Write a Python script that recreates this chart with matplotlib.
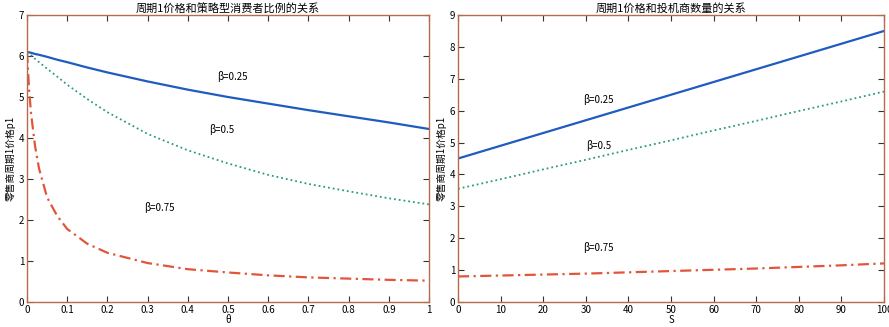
import numpy as np
import matplotlib
matplotlib.use('Agg')
import matplotlib.pyplot as plt

plt.rcParams['font.family'] = ['Noto Sans CJK SC', 'DejaVu Sans']

# left panel: price vs share of strategic consumers
theta = [0, 0.005, 0.01, 0.02, 0.03, 0.05, 0.075, 0.1, 0.15, 0.2, 0.3, 0.4, 0.5, 0.6, 0.7, 0.8, 0.9, 1.0]
p_b025 = [6.1, 6.09, 6.08, 6.05, 6.03, 5.98, 5.91, 5.85, 5.72, 5.6, 5.38, 5.18, 5.0, 4.84, 4.68, 4.53, 4.38, 4.22]
p_b05 = [6.1, 6.06, 6.02, 5.93, 5.85, 5.69, 5.5, 5.3, 4.95, 4.63, 4.1, 3.7, 3.38, 3.1, 2.88, 2.7, 2.53, 2.38]
p_b075 = [6.1, 5.2, 4.6, 3.8, 3.25, 2.55, 2.1, 1.78, 1.42, 1.2, 0.95, 0.8, 0.72, 0.65, 0.6, 0.57, 0.54, 0.52]

# right panel: price vs number of speculators
S = [0, 10, 20, 30, 40, 50, 60, 70, 80, 90, 100]
q_b025 = [4.5, 4.9, 5.3, 5.7, 6.1, 6.5, 6.9, 7.3, 7.7, 8.1, 8.5]
q_b05 = [3.55, 3.85, 4.16, 4.46, 4.77, 5.07, 5.38, 5.68, 5.99, 6.29, 6.6]
q_b075 = [0.8, 0.83, 0.86, 0.89, 0.93, 0.97, 1.01, 1.05, 1.1, 1.15, 1.21]

labels = ['β=0.25', 'β=0.5', 'β=0.75']
titles = ['周期1价格和策略型消费者比例的关系', '周期1价格和投机商数量的关系']
ylab = '零售商周期1价格p1'

spine_c = '#b86a4c'
c_blue = '#1f5cc0'
c_teal = '#2b9a86'
c_red = '#e2553a'

fig = plt.figure(figsize=(8.89, 3.27), dpi=100)
ax1 = fig.add_axes([0.0304, 0.0765, 0.4522, 0.8775])
ax2 = fig.add_axes([0.5152, 0.0765, 0.4792, 0.8775])

def style(ax):
    for s in ax.spines.values():
        s.set_color(spine_c)
        s.set_linewidth(1.0)
    ax.tick_params(direction='in', top=True, right=True, labelsize=7,
                   length=4, color='#333333', pad=2)

ax1.plot(theta, p_b025, '-', color=c_blue, lw=1.6)
ax1.plot(theta, p_b05, ':', color=c_teal, lw=1.3)
ax1.plot(theta, p_b075, '-.', color=c_red, lw=1.6, dashes=(5, 2, 1, 2))
ax1.set_xlim(0, 1)
ax1.set_ylim(0, 7)
ax1.set_xticks(np.arange(0, 1.01, 0.1))
ax1.set_xticklabels(['0', '0.1', '0.2', '0.3', '0.4', '0.5', '0.6', '0.7', '0.8', '0.9', '1'])
ax1.set_yticks(range(0, 8))
ax1.text(0.51, 5.49, labels[0], fontsize=7, ha='center', va='center')
ax1.text(0.485, 4.2, labels[1], fontsize=7, ha='center', va='center')
ax1.text(0.33, 2.3, labels[2], fontsize=7, ha='center', va='center')
ax1.set_title(titles[0], fontsize=8, pad=2)
ax1.set_xlabel('θ', fontsize=7, labelpad=0)
ax1.set_ylabel(ylab, fontsize=7, labelpad=2)
style(ax1)

ax2.plot(S, q_b025, '-', color=c_blue, lw=1.6)
ax2.plot(S, q_b05, ':', color=c_teal, lw=1.3)
ax2.plot(S, q_b075, '-.', color=c_red, lw=1.6, dashes=(5, 2, 1, 2))
ax2.set_xlim(0, 100)
ax2.set_ylim(0, 9)
ax2.set_xticks(range(0, 101, 10))
ax2.set_yticks(range(0, 10))
ax2.text(33, 6.36, labels[0], fontsize=7, ha='center', va='center')
ax2.text(33, 4.92, labels[1], fontsize=7, ha='center', va='center')
ax2.text(33, 1.72, labels[2], fontsize=7, ha='center', va='center')
ax2.set_title(titles[1], fontsize=8, pad=2)
ax2.set_xlabel('S', fontsize=7, labelpad=0)
ax2.set_ylabel(ylab, fontsize=7, labelpad=2)
style(ax2)

fig.savefig('out.png', dpi=100)
